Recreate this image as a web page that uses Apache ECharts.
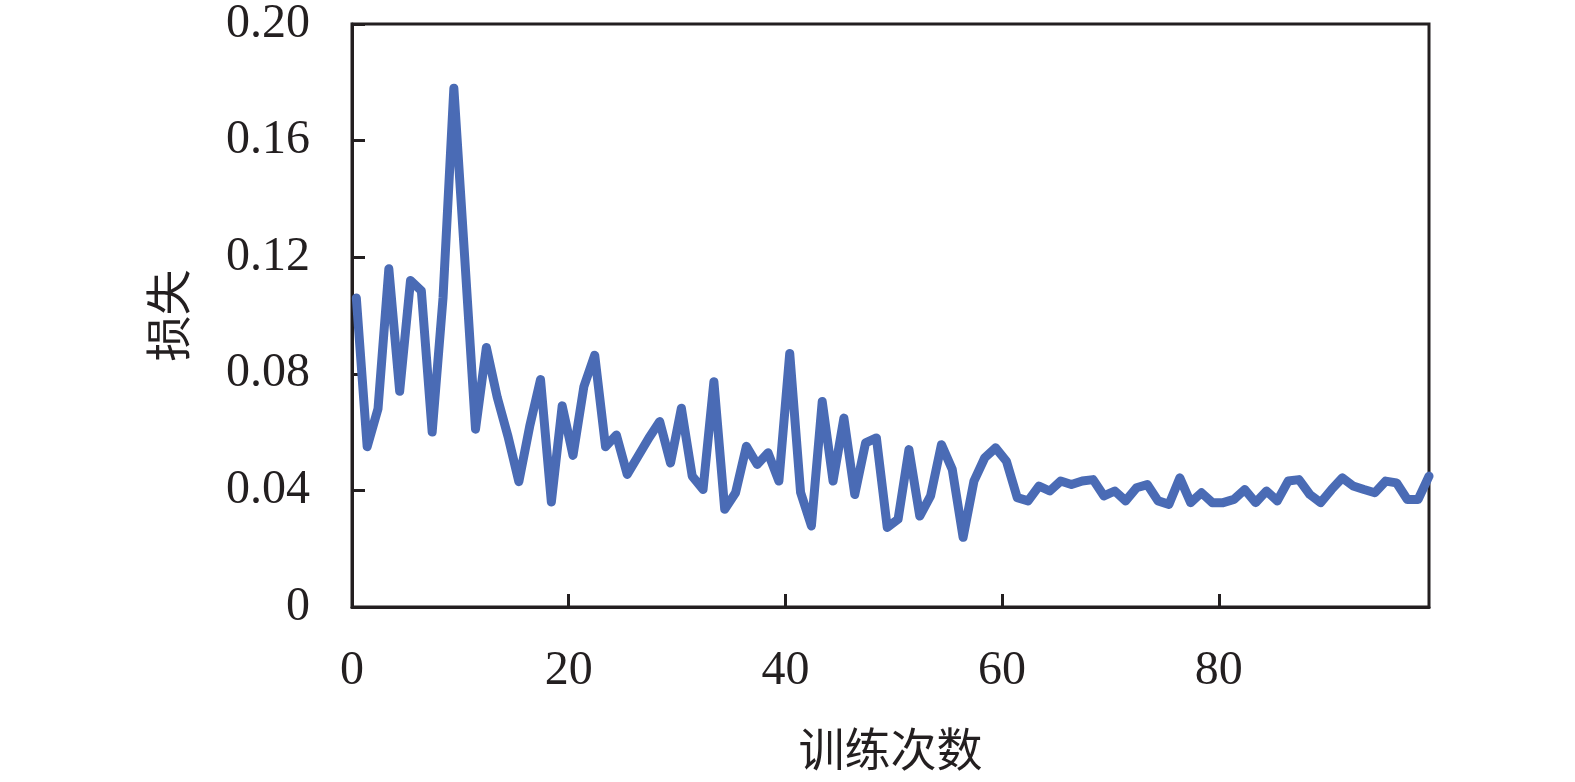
<!DOCTYPE html>
<html lang="zh">
<head>
   <meta charset="UTF-8">
   <title>损失曲线</title>
   <script src="https://cdn.jsdelivr.net/npm/echarts@6/dist/echarts.min.js"></script>
   <style type="text/css">
   body{margin:0; padding:0; background:#fff;}
   #main{width:1575px;height:782px;}
   </style>
</head>
<body>
<div id="main"></div>
<script type="text/javascript">
// loss per training step (steps 0..99)
var lossValues = [
    0.106, 0.055, 0.068, 0.116, 0.074, 0.112, 0.1085, 0.060, 0.106, 0.178,
    0.120, 0.061, 0.089, 0.072, 0.0585, 0.043, 0.062, 0.078, 0.036, 0.069,
    0.052, 0.0756, 0.0864, 0.055, 0.059, 0.0455, 0.0517, 0.058, 0.0636, 0.0494,
    0.0682, 0.0449, 0.0403, 0.0773, 0.0335, 0.0392, 0.0551, 0.0489, 0.0529, 0.0432,
    0.087, 0.0393, 0.0278, 0.0705, 0.0432, 0.0648, 0.0386, 0.0563, 0.058, 0.0273,
    0.0301, 0.054, 0.0312, 0.0381, 0.0557, 0.0472, 0.0239, 0.0432, 0.0512, 0.0546,
    0.050, 0.0375, 0.0364, 0.0415, 0.0398, 0.0432, 0.042, 0.0432, 0.0437, 0.0381,
    0.0398, 0.0364, 0.0409, 0.042, 0.0364, 0.0352, 0.0443, 0.0358, 0.0392, 0.0358,
    0.0358, 0.0369, 0.0403, 0.0358, 0.0398, 0.0364, 0.0432, 0.0437, 0.0386, 0.0358,
    0.0403, 0.0443, 0.0415, 0.0403, 0.0392, 0.0432, 0.0426, 0.0369, 0.0369, 0.0449
];
var xTicks = [0, 20, 40, 60, 80];
var yTicks = ['0', '0.04', '0.08', '0.12', '0.16', '0.20'];
var xName = '训练次数';
var yName = '损失';

var axisColor = '#231f20';
var fontFam = "'Liberation Serif', 'Times New Roman', 'Noto Sans CJK SC', serif";

// points sit a little right of the integer step, like the source plot
var seriesData = [];
for (var i = 0; i < lossValues.length; i++) {
    seriesData.push([i + 0.4, lossValues[i]]);
}

var myChart = echarts.init(document.getElementById('main'));
var option = {
    backgroundColor: '#ffffff',
    animation: false,
    grid: {
        left: 352,
        right: 146,
        top: 23,
        bottom: 174,
        show: true,
        borderColor: axisColor,
        borderWidth: 3,
        backgroundColor: 'transparent'
    },
    xAxis: {
        type: 'value',
        min: 0,
        max: 99.4,
        interval: 20,
        name: xName,
        nameLocation: 'middle',
        nameGap: 124,
        nameTextStyle: {color: axisColor, fontSize: 46, fontFamily: fontFam},
        axisLine: {show: true, lineStyle: {color: axisColor, width: 3}},
        axisTick: {show: true, inside: true, length: 13, lineStyle: {color: axisColor, width: 3}},
        axisLabel: {
            color: axisColor, fontSize: 48, fontFamily: fontFam, margin: 40,
            showMaxLabel: false,
            formatter: function (v) {
                return xTicks.indexOf(v) >= 0 ? String(v) : '';
            }
        },
        splitLine: {show: false}
    },
    yAxis: {
        type: 'value',
        min: 0,
        max: 0.2,
        interval: 0.04,
        name: yName,
        nameLocation: 'middle',
        nameGap: 156,
        nameRotate: 90,
        nameTextStyle: {color: axisColor, fontSize: 46, fontFamily: fontFam},
        axisLine: {show: true, lineStyle: {color: axisColor, width: 3}},
        axisTick: {show: true, inside: true, length: 13, lineStyle: {color: axisColor, width: 3}},
        axisLabel: {
            color: axisColor, fontSize: 48, fontFamily: fontFam, margin: 42,
            formatter: function (v) {
                return yTicks[Math.round(v / 0.04)];
            }
        },
        splitLine: {show: false}
    },
    series: [
        {
            type: 'line',
            data: seriesData,
            showSymbol: false,
            lineStyle: {color: '#4a6bb5', width: 9, join: 'round', cap: 'round'},
            clip: true
        }
    ]
};
myChart.setOption(option);
</script>
</body>
</html>
